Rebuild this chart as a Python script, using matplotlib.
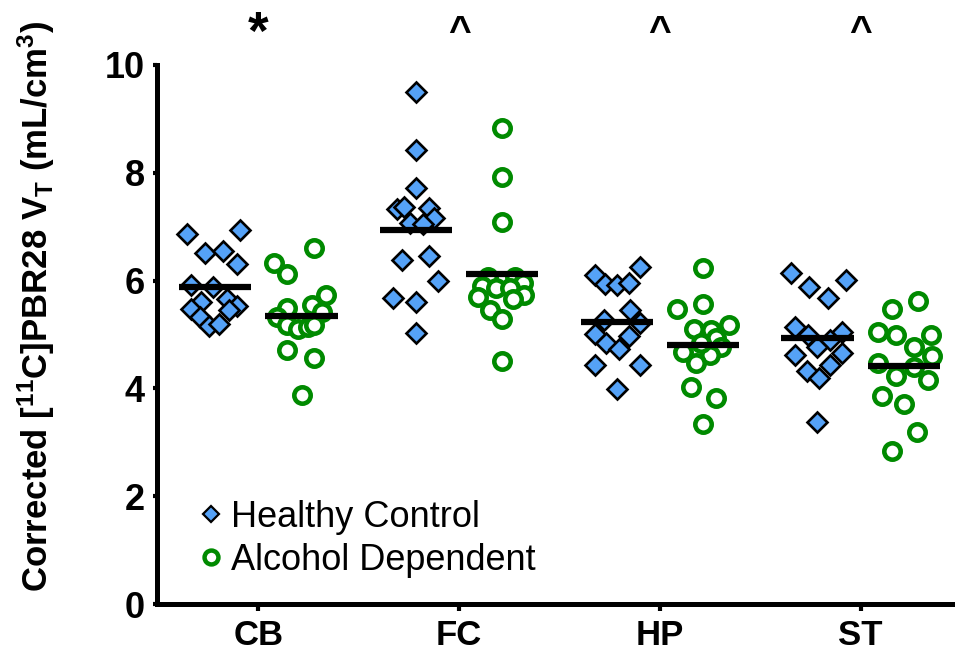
import matplotlib
matplotlib.use("Agg")
import matplotlib.pyplot as plt
from matplotlib.lines import Line2D

plt.rcParams['font.family'] = ['Liberation Sans', 'DejaVu Sans']
plt.rcParams['mathtext.fontset'] = 'custom'
plt.rcParams['mathtext.rm'] = 'Liberation Sans:bold'
plt.rcParams['mathtext.default'] = 'rm'

regions = ["CB", "FC", "HP", "ST"]
markers_top = ["*", "^", "^", "^"]
groups = ["Healthy Control", "Alcohol Dependent"]

# values (mL/cm3)
hc_CB = [6.86, 6.93, 6.51, 6.54, 6.31, 5.92, 5.88, 5.61, 5.65, 5.47, 5.52, 5.45, 5.32, 5.16, 5.19]
hc_CB_jit = [-0.14, 0.125, -0.05, 0.04, 0.11, -0.12, -0.01, -0.07, 0.06, -0.12, 0.11, 0.07, -0.075, -0.03, 0.02]
ad_CB = [6.60, 6.32, 6.12, 5.73, 5.55, 5.49, 5.42, 5.33, 5.18, 5.11, 5.14, 5.18, 4.71, 4.56, 3.88]
ad_CB_jit = [0.06, -0.135, -0.07, 0.12, 0.05, -0.07, 0.10, -0.12, -0.07, -0.02, 0.03, 0.06, -0.07, 0.06, 0.0]

hc_FC = [9.49, 8.42, 7.71, 7.32, 7.37, 7.34, 7.16, 7.07, 7.05, 6.38, 6.46, 6.00, 5.67, 5.60, 5.02]
hc_FC_jit = [0.0, 0.0, 0.0, -0.095, -0.06, 0.065, 0.09, -0.03, 0.035, -0.07, 0.065, 0.11, -0.115, 0.0, 0.0]
ad_FC = [8.83, 7.92, 7.09, 6.06, 6.07, 5.95, 5.90, 5.86, 5.86, 5.70, 5.73, 5.65, 5.45, 5.28, 4.50]
ad_FC_jit = [0.0, 0.0, 0.0, -0.07, 0.065, 0.105, -0.10, -0.03, 0.04, -0.12, 0.11, 0.055, -0.06, 0.0, 0.0]

hc_HP = [6.26, 6.10, 5.94, 5.92, 5.95, 5.45, 5.27, 5.21, 5.01, 4.97, 4.84, 4.74, 4.43, 4.43, 3.98]
hc_HP_jit = [0.115, -0.11, -0.06, 0.0, 0.06, 0.065, -0.065, 0.115, -0.11, 0.06, -0.055, 0.01, -0.11, 0.115, 0.0]
ad_HP = [6.24, 5.47, 5.57, 5.10, 5.18, 5.08, 4.93, 4.77, 4.68, 4.62, 4.48, 4.03, 3.82, 3.34, 4.84]
ad_HP_jit = [0.0, -0.13, 0.0, -0.045, 0.13, 0.04, 0.065, 0.09, -0.10, 0.035, -0.035, -0.06, 0.065, 0.0, -0.01]

hc_ST = [6.14, 6.01, 5.88, 5.67, 5.13, 4.99, 5.05, 4.90, 4.77, 4.62, 4.65, 4.43, 4.33, 4.19, 3.37]
hc_ST_jit = [-0.13, 0.14, -0.04, 0.05, -0.11, -0.045, 0.12, 0.06, 0.0, -0.11, 0.12, 0.06, -0.05, 0.01, 0.0]
ad_ST = [5.63, 5.47, 5.05, 4.99, 4.99, 4.76, 4.60, 4.47, 4.40, 4.23, 4.16, 3.85, 3.71, 3.20, 2.83]
ad_ST_jit = [0.07, -0.06, -0.13, -0.04, 0.135, 0.05, 0.14, -0.13, 0.05, -0.04, 0.12, -0.11, 0.0, 0.065, -0.06]

hc_means = [5.88, 6.93, 5.23, 4.94]
ad_means = [5.34, 6.12, 4.80, 4.42]

hc_vals = [hc_CB, hc_FC, hc_HP, hc_ST]
hc_jits = [hc_CB_jit, hc_FC_jit, hc_HP_jit, hc_ST_jit]
ad_vals = [ad_CB, ad_FC, ad_HP, ad_ST]
ad_jits = [ad_CB_jit, ad_FC_jit, ad_HP_jit, ad_ST_jit]

blue = '#55A2F7'
green = '#008A00'
offset = 0.215
half_w = 0.18

fig = plt.figure(figsize=(9.55, 6.53), dpi=100)
ax = fig.add_axes([157/955, 49/653, 796/955, 539/653])

for i in range(len(regions)):
    xs = [i - offset + j for j in hc_jits[i]]
    ax.plot(xs, hc_vals[i], linestyle='none', marker='D', markersize=10,
            markerfacecolor=blue, markeredgecolor='black', markeredgewidth=1.9,
            zorder=3, clip_on=False)
    xs = [i + offset + j for j in ad_jits[i]]
    ax.plot(xs, ad_vals[i], linestyle='none', marker='o', markersize=11.8,
            markerfacecolor='white', markeredgecolor=green, markeredgewidth=3.3,
            zorder=3, clip_on=False)
    ax.plot([i - offset - half_w, i - offset + half_w], [hc_means[i]] * 2,
            color='black', linewidth=4.5, solid_capstyle='butt', zorder=4)
    ax.plot([i + offset - half_w, i + offset + half_w], [ad_means[i]] * 2,
            color='black', linewidth=4.5, solid_capstyle='butt', zorder=4)
    if markers_top[i] == '*':
        ax.text(i, 10.56, markers_top[i], ha='center', va='center',
                fontsize=38, fontweight='bold', clip_on=False)
    else:
        ax.text(i, 10.6, markers_top[i], ha='center', va='center',
                fontsize=28, fontweight='bold', clip_on=False)

ax.set_xlim(-0.505, 3.46)
ax.set_ylim(0, 10)
ax.set_yticks([0, 2, 4, 6, 8, 10])
ax.set_xticks(range(len(regions)))
ax.set_xticklabels(regions)

for s in ['top', 'right']:
    ax.spines[s].set_visible(False)
for s in ['left', 'bottom']:
    ax.spines[s].set_linewidth(3.6)
    ax.spines[s].set_capstyle('projecting')

ax.tick_params(axis='y', direction='out', length=3, width=3, pad=6, labelsize=26)
ax.tick_params(axis='x', direction='out', length=5, width=3, pad=6, labelsize=25)
for lbl in ax.get_xticklabels() + ax.get_yticklabels():
    lbl.set_fontweight('bold')

ax.set_ylabel(r'Corrected [$^{11}$C]PBR28 V$_{T}$ (mL/cm$^{3}$)', fontsize=25,
              fontweight='bold')
ax.yaxis.set_label_coords(-0.126, 0.553)

handles = [
    Line2D([], [], linestyle='none', marker='D', markersize=8, markerfacecolor=blue,
           markeredgecolor='black', markeredgewidth=1.6),
    Line2D([], [], linestyle='none', marker='o', markersize=10, markerfacecolor='white',
           markeredgecolor=green, markeredgewidth=3.2),
]
ax.legend(handles, groups, loc='upper left', bbox_to_anchor=(0.05, 0.193),
          frameon=False, fontsize=26, handlelength=0.8, handletextpad=0.16,
          labelspacing=0.22, borderaxespad=0, borderpad=0)

fig.savefig('out.png', dpi=100)
